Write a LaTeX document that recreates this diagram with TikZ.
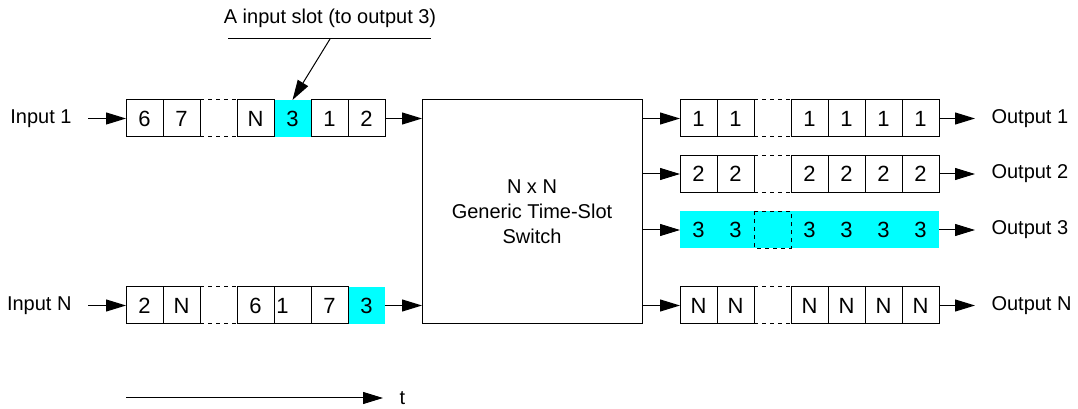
\documentclass[tikz,border=0pt]{standalone}
\usepackage{fontspec}
\setmainfont{Liberation Sans}
\usetikzlibrary{arrows.meta}
\definecolor{slotcyan}{RGB}{0,255,255}

\begin{document}
\begin{tikzpicture}[x=0.75pt,y=-0.75pt,line width=0.75pt,
    font=\fontsize{15}{18.75}\selectfont,
    slot/.style={draw,minimum width=27.75pt,minimum height=27.75pt,inner sep=0pt,outer sep=0pt,
        font=\fontsize{16.5}{20}\selectfont},
    hot/.style={fill=slotcyan,minimum width=27.75pt,minimum height=27.75pt,inner sep=0pt,outer sep=0pt,
        font=\fontsize{16.5}{20}\selectfont},
    gap/.style={minimum width=27.75pt,minimum height=27.75pt,inner sep=0pt,outer sep=0pt},
    lbl/.style={inner xsep=12pt,inner ysep=0pt},
    feed/.style={-{Triangle[length=15pt,width=9pt]}}]
\useasboundingbox (0,0) rectangle (1078,409);

%
\node (note) at (330,18) {A input slot (to output 3)};
\coordinate (noteL) at (228,39);
\coordinate (noteR) at (431,39);
\coordinate (noteP) at (330,39);
\draw (noteL) -- (noteR);

%
\node[hot] (in1e) at (292.5,118.5) {3};
\node[slot] (in1a) at (144.5,118.5) {6};
\node[slot] (in1b) at (181.5,118.5) {7};
\node[gap] (in1c) at (218.5,118.5) {};
\node[slot] (in1d) at (255.5,118.5) {N};
\node[slot] (in1f) at (329.5,118.5) {1};
\node[slot] (in1g) at (366.5,118.5) {2};
\draw[dashed] (in1c.north west) -- (in1c.north east);
\draw[dashed] (in1c.south west) -- (in1c.south east);
\draw[feed] (noteP) -- (in1e.north);

%
\node[hot] (inNg) at (366.5,305.5) {3};
\node[slot] (inNa) at (144.5,305.5) {2};
\node[slot] (inNb) at (181.5,305.5) {N};
\node[gap] (inNc) at (218.5,305.5) {};
\node[slot] (inNd) at (255.5,305.5) {6};
\node[slot] (inNe) at (292.5,305.5) {1\kern15pt};
\node[slot] (inNf) at (329.5,305.5) {7};
\draw[dashed] (inNc.north west) -- (inNc.north east);
\draw[dashed] (inNc.south west) -- (inNc.south east);

\node[lbl,anchor=east] (in1) at (88,118.5) {Input 1};
\node[lbl,anchor=east] (inN) at (88,305.5) {Input N};
\draw[feed] (in1) -- (in1a);
\draw[feed] (inN) -- (inNa);

%
\node[draw,align=center,minimum width=165pt,minimum height=168pt,outer sep=0pt] (sw) at (532,212)
    {N x N\\Generic Time-Slot\\Switch};
\draw[feed] (in1g) -- (in1g -| sw.west);
\draw[feed] (inNg) -- (inNg -| sw.west);

%
\node[slot] (out1a) at (698.5,118.5) {1};
\node[slot] (out1b) at (735.5,118.5) {1};
\node[gap] (out1c) at (772.5,118.5) {};
\node[slot] (out1d) at (809.5,118.5) {1};
\node[slot] (out1e) at (846.5,118.5) {1};
\node[slot] (out1f) at (883.5,118.5) {1};
\node[slot] (out1g) at (920.5,118.5) {1};
\draw[dashed] (out1c.north west) -- (out1c.north east);
\draw[dashed] (out1c.south west) -- (out1c.south east);

\node[slot] (out2a) at (698.5,174) {2};
\node[slot] (out2b) at (735.5,174) {2};
\node[gap] (out2c) at (772.5,174) {};
\node[slot] (out2d) at (809.5,174) {2};
\node[slot] (out2e) at (846.5,174) {2};
\node[slot] (out2f) at (883.5,174) {2};
\node[slot] (out2g) at (920.5,174) {2};
\draw[dashed] (out2c.north west) -- (out2c.north east);
\draw[dashed] (out2c.south west) -- (out2c.south east);

\node[hot] (out3a) at (698.5,230) {3};
\node[hot] (out3b) at (735.5,230) {3};
\node[hot] (out3c) at (772.5,230) {};
\node[hot] (out3d) at (809.5,230) {3};
\node[hot] (out3e) at (846.5,230) {3};
\node[hot] (out3f) at (883.5,230) {3};
\node[hot] (out3g) at (920.5,230) {3};
\draw[dashed] (out3c.north west) rectangle (out3c.south east);

\node[slot] (outNa) at (698.5,305.5) {N};
\node[slot] (outNb) at (735.5,305.5) {N};
\node[gap] (outNc) at (772.5,305.5) {};
\node[slot] (outNd) at (809.5,305.5) {N};
\node[slot] (outNe) at (846.5,305.5) {N};
\node[slot] (outNf) at (883.5,305.5) {N};
\node[slot] (outNg) at (920.5,305.5) {N};
\draw[dashed] (outNc.north west) -- (outNc.north east);
\draw[dashed] (outNc.south west) -- (outNc.south east);

\draw[feed] (sw.east |- out1a) -- (out1a);
\draw[feed] (sw.east |- out2a) -- (out2a);
\draw[feed] (sw.east |- out3a) -- (out3a);
\draw[feed] (sw.east |- outNa) -- (outNa);

\node[lbl,anchor=west] (out1) at (975,118.5) {Output 1};
\node[lbl,anchor=west] (out2) at (975,174) {Output 2};
\node[lbl,anchor=west] (out3) at (975,230) {Output 3};
\node[lbl,anchor=west] (outN) at (975,305.5) {Output N};
\draw[feed] (out1g) -- (out1);
\draw[feed] (out2g) -- (out2);
\draw[feed] (out3g) -- (out3);
\draw[feed] (outNg) -- (outN);

%
\coordinate (t0) at (126,398);
\node[lbl,anchor=west] (tt) at (383,398) {t};
\draw[feed] (t0) -- (tt);
\end{tikzpicture}
\end{document}
